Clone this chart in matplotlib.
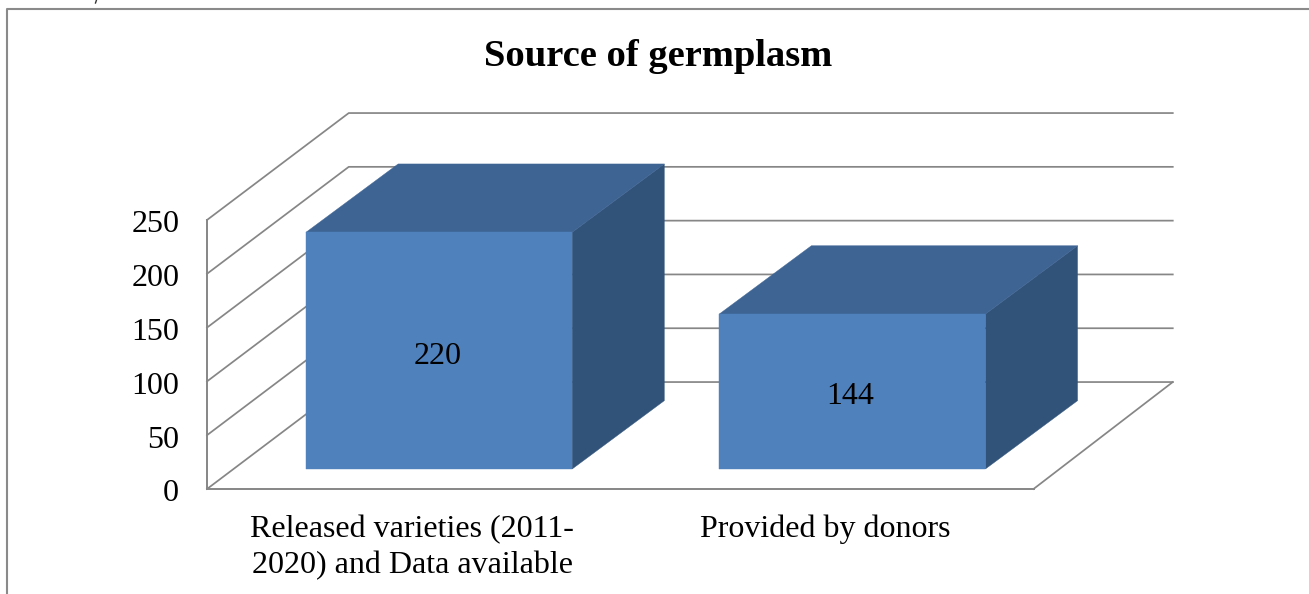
import matplotlib
matplotlib.use("Agg")
import matplotlib.pyplot as plt
from matplotlib.patches import Polygon
from matplotlib.lines import Line2D
from matplotlib.transforms import ScaledTranslation

categories = ["Released varieties (2011-\n2020) and Data available", "Provided by donors"]
values = [220, 144]
y_ticks = [0, 50, 100, 150, 200, 250]
title = "Source of germplasm"

W, H = 1309, 594
GRID = "#868686"
FRONT = "#4F81BD"
TOP = "#3E6494"
SIDE = "#325379"

# oblique depth of the fake 3d box, in data units
DX = 0.34
DY = 99.4
BAR_W = 0.644
BAR_DX = 0.223
BAR_DY = 63.5
Z0 = 0.187

plt.rcParams["font.family"] = ["Liberation Serif"]

fig = plt.figure(figsize=(W / 100, H / 100), dpi=100)

# outer chart border, only left and top are in the crop
fig.add_artist(Line2D([7 / W, 7 / W, 1], [0, 1 - 9 / H, 1 - 9 / H], color="#8a8a8a", lw=1.5))
# speck of cropped text above the border
fig.add_artist(Line2D([96.5 / W, 95.5 / W], [1, 1 - 3 / H], color="#333333", lw=1.0))

ax = fig.add_axes([207 / W, 1 - 489 / H, 826.5 / W, 269 / H])
ax.set_xlim(0, 2)
ax.set_ylim(0, 250)
ax.patch.set_visible(False)
for s in ["top", "right"]:
    ax.spines[s].set_visible(False)
for s in ["left", "bottom"]:
    ax.spines[s].set_color(GRID)
    ax.spines[s].set_linewidth(1.4)

ax.set_xticks([0.5, 1.5])
ax.set_xticklabels(categories, fontsize=23, linespacing=1.33)
ax.set_yticks(y_ticks)
ax.tick_params(axis="y", length=0, pad=20, labelsize=23)
ax.tick_params(axis="x", length=0, pad=18.5)

for lab in ax.get_yticklabels():
    lab.set_transform(lab.get_transform() + ScaledTranslation(0, -1 / 72, fig.dpi_scale_trans))
for lab in ax.get_xticklabels():
    lab.set_transform(lab.get_transform() + ScaledTranslation(-1 / 72, 0, fig.dpi_scale_trans))

# walls: left side wall and back wall gridlines
for v in y_ticks:
    ax.plot([0, DX + 0.003, 2 + DX - 0.003], [v, v + DY, v + DY], color=GRID, lw=1.25, clip_on=False, zorder=1)
ax.plot([2, 2 + DX - 0.003], [0, DY], color=GRID, lw=1.25, clip_on=False, zorder=1)

for i, v in enumerate(values):
    x0 = i + 0.5 - BAR_W / 2 + Z0 * DX - 0.002
    x1 = x0 + BAR_W
    y0 = Z0 * DY
    y1 = y0 + v
    ax.add_patch(Polygon([(x1, y0), (x1 + BAR_DX, y0 + BAR_DY), (x1 + BAR_DX, y1 + BAR_DY), (x1, y1)], fc=SIDE, ec=SIDE, lw=0.3, clip_on=False, zorder=3))
    ax.add_patch(Polygon([(x0, y1), (x1, y1), (x1 + BAR_DX, y1 + BAR_DY), (x0 + BAR_DX, y1 + BAR_DY)], fc=TOP, ec=TOP, lw=0.3, clip_on=False, zorder=3))
    ax.add_patch(Polygon([(x0, y0), (x1, y0), (x1, y1), (x0, y1)], fc=FRONT, ec=FRONT, lw=0.3, clip_on=False, zorder=3))
    ax.text((x0 + x1) / 2 - 0.004, (y0 + y1) / 2 - 5, str(v), ha="center", va="center", fontsize=23, color="black", zorder=4)

fig.text(658.5 / W, 1 - 57 / H, title, fontsize=27.7, fontweight="bold", ha="center", va="center")

plt.savefig("out.png", dpi=100)
